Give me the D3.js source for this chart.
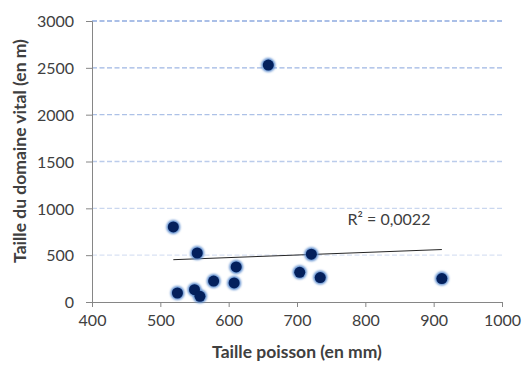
<!DOCTYPE html>
<html>
<head>
<meta charset="utf-8">
<script src="https://cdn.jsdelivr.net/npm/d3@7"></script>
<style>
  html, body { margin: 0; padding: 0; background: #fff; }
  svg { display: block; }
  text { font-family: Lato, "Open Sans", sans-serif; fill: #404040; }
</style>
</head>
<body>
<svg id="chart" width="523" height="365"></svg>
<script>
// Fish length (mm) against home-range size (m)
const fishLength = [519, 554, 525, 550, 558, 578, 608, 611, 658, 704, 721, 734, 912];
const homeRange  = [801, 523,  96, 132,  61, 224, 203, 374, 2529, 317, 510, 261, 250];
const xTicks = [400, 500, 600, 700, 800, 900, 1000];
const yTicks = [0, 500, 1000, 1500, 2000, 2500, 3000];
const xTitle = "Taille poisson (en mm)";
const yTitle = "Taille du domaine vital (en m)";
const r2Label = "R\u00B2 = 0,0022";

const svg = d3.select("#chart");
const margin = { left: 92, right: 21, top: 21, bottom: 63 };
const W = 523, H = 365;

const x = d3.scaleLinear().domain([400, 1000]).range([margin.left, W - margin.right]);
const y = d3.scaleLinear().domain([0, 3000]).range([H - margin.bottom, margin.top]);

const points = fishLength.map((v, i) => ({ x: v, y: homeRange[i] }));

// Gridlines: dashed, fading from a deeper blue at the top to a pale blue near the base
const gridColor = d3.interpolateRgb("#8fabdf", "#d9e2f3");
svg.append("g")
  .selectAll("line")
  .data(yTicks.filter(t => t > 0))
  .join("line")
  .attr("x1", x(400)).attr("x2", x(1000))
  .attr("y1", d => y(d)).attr("y2", d => y(d))
  .attr("stroke", d => gridColor((3000 - d) / 2500))
  .attr("stroke-width", 1.3)
  .attr("stroke-dasharray", "5,2.5");

// Axes
const axisColor = "#868686";
const xAxis = svg.append("g")
  .attr("transform", `translate(0,${y(0)})`)
  .call(d3.axisBottom(x).tickValues(xTicks).tickSize(5).tickPadding(8).tickFormat(d3.format("d")));
const yAxis = svg.append("g")
  .attr("transform", `translate(${x(400)},0)`)
  .call(d3.axisLeft(y).tickValues(yTicks).tickSize(6).tickPadding(12).tickFormat(d3.format("d")));
[xAxis, yAxis].forEach(g => {
  g.select(".domain").attr("stroke", axisColor);
  g.selectAll(".tick line").attr("stroke", axisColor);
  g.selectAll(".tick text").attr("fill", "#404040").style("font-size", "16px").style("font-family", "Lato, sans-serif");
});
yAxis.selectAll(".tick text").attr("dy", "0.36em");

// Least-squares trend line over the observed x range
const mx = d3.mean(fishLength), my = d3.mean(homeRange);
const sxy = d3.sum(points, p => (p.x - mx) * (p.y - my));
const sxx = d3.sum(points, p => (p.x - mx) ** 2);
const slope = sxy / sxx, intercept = my - slope * mx;
const [xmin, xmax] = d3.extent(fishLength);
svg.append("line")
  .attr("x1", x(xmin)).attr("y1", y(intercept + slope * xmin))
  .attr("x2", x(xmax)).attr("y2", y(intercept + slope * xmax))
  .attr("stroke", "#262626").attr("stroke-width", 1);

// Markers with a soft blue halo
const defs = svg.append("defs");
defs.append("filter").attr("id", "halo").attr("x", "-50%").attr("y", "-50%").attr("width", "200%").attr("height", "200%")
  .append("feGaussianBlur").attr("stdDeviation", 0.9);

const marks = svg.append("g");
marks.selectAll("circle.halo")
  .data(points).join("circle")
  .attr("class", "halo")
  .attr("cx", d => x(d.x)).attr("cy", d => y(d.y))
  .attr("r", 7)
  .attr("fill", "#5f8ecf")
  .attr("filter", "url(#halo)");
marks.selectAll("circle.dot")
  .data(points).join("circle")
  .attr("class", "dot")
  .attr("cx", d => x(d.x)).attr("cy", d => y(d.y))
  .attr("r", 5.5)
  .attr("fill", "#04205c");

// R² annotation
svg.append("text")
  .attr("x", 389).attr("y", 225)
  .attr("text-anchor", "middle")
  .style("font-size", "16px")
  .text(r2Label);

// Axis titles
svg.append("text")
  .attr("x", 297).attr("y", 358)
  .attr("text-anchor", "middle")
  .style("font-size", "17.5px").style("font-weight", "bold").attr("fill", "#1a1a1a")
  .text(xTitle);
svg.append("text")
  .attr("transform", `translate(26,151) rotate(-90)`)
  .attr("text-anchor", "middle")
  .style("font-size", "17.5px").style("font-weight", "bold").attr("fill", "#1a1a1a")
  .text(yTitle);
</script>
</body>
</html>
